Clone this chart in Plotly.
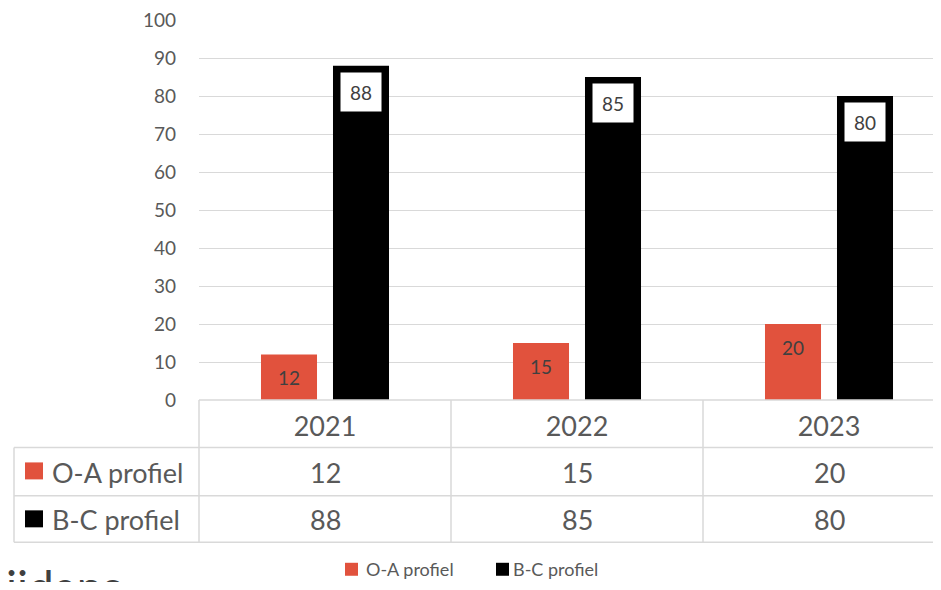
import plotly.graph_objects as go

# ---- data ----
years = ["2021", "2022", "2023"]
series_names = ["O-A profiel", "B-C profiel"]
oa_values = [12, 15, 20]
bc_values = [88, 85, 80]
y_ticks = [0, 10, 20, 30, 40, 50, 60, 70, 80, 90, 100]
cut_text = "iidans"

# ---- style ----
RED = "#E1523D"
BLACK = "#000000"
GRID = "#D9D9D9"
TXT = "#595959"
LBL = "#404040"
FONT = "Lato"

PAGE_OFF = 8  # browser body margin (all sides)
W, H = 941 - 2 * PAGE_OFF, 590 - 2 * PAGE_OFF
ML, MT, MR = 199 - PAGE_OFF, 20 - PAGE_OFF, 0
PLOT_BOTTOM = 400.5 - PAGE_OFF
MB = H - PLOT_BOTTOM
PW = W - ML - MR
PH = H - MT - MB
CAT_W = 252  # pixel width of one category
BARGAP = 1 - 144 / 252
GROUPGAP = 0.222


def px(x):
    """reference-page pixel x -> paper fraction"""
    return (x - PAGE_OFF - ML) / PW


def py(y):
    """reference-page pixel y -> paper fraction"""
    return (PLOT_BOTTOM - (y - PAGE_OFF)) / PH


fig = go.Figure()
fig.add_trace(go.Bar(name=series_names[0], x=years, y=oa_values,
                     marker=dict(color=RED, line=dict(width=0)), hoverinfo="skip"))
fig.add_trace(go.Bar(name=series_names[1], x=years, y=bc_values,
                     marker=dict(color=BLACK, line=dict(width=0)), hoverinfo="skip"))

off = (1 - BARGAP) / 4  # center offset of each bar from the category center
annotations = []
for i, (a, b) in enumerate(zip(oa_values, bc_values)):
    annotations.append(dict(x=i - off, y=a, xref="x", yref="y", text=str(a),
                            showarrow=False, yshift=-23, yanchor="middle",
                            font=dict(family=FONT, size=19, color=LBL)))
    annotations.append(dict(x=i + off, y=b, xref="x", yref="y", text=str(b),
                            showarrow=False, yshift=-26, yanchor="middle",
                            bgcolor="white", width=24, height=22, borderpad=8,
                            font=dict(family=FONT, size=19, color=LBL)))
    # data table values
    annotations.append(dict(x=i, y=py(473), xref="x", yref="paper", text=str(a),
                            showarrow=False, yanchor="middle",
                            font=dict(family=FONT, size=27, color=TXT)))
    annotations.append(dict(x=i, y=py(520), xref="x", yref="paper", text=str(b),
                            showarrow=False, yanchor="middle",
                            font=dict(family=FONT, size=27, color=TXT)))

# data table row headers
for name, yc in zip(series_names, [473, 520]):
    annotations.append(dict(x=px(50), y=py(yc), xref="paper", yref="paper", text=name,
                            showarrow=False, xanchor="left", yanchor="middle",
                            font=dict(family=FONT, size=27, color=TXT)))

# legend (bottom) texts
for name, xl in zip(series_names, [364, 511]):
    annotations.append(dict(x=px(xl), y=py(570), xref="paper", yref="paper", text=name,
                            showarrow=False, xanchor="left", yanchor="middle",
                            font=dict(family=FONT, size=18, color=TXT)))

# cropped text at bottom-left
annotations.append(dict(x=px(4), y=py(558), xref="paper", yref="paper", text=cut_text,
                        showarrow=False, xanchor="left", yanchor="top",
                        font=dict(family=FONT, size=46, color=LBL)))

shapes = []
line = dict(color=GRID, width=1.5)
# horizontal table lines
shapes.append(dict(type="line", xref="paper", yref="paper", x0=0, x1=1,
                   y0=py(400.5), y1=py(400.5), line=line))
for yy in [448, 496.5, 543]:
    shapes.append(dict(type="line", xref="paper", yref="paper", x0=px(14), x1=1,
                       y0=py(yy), y1=py(yy), line=line))
# vertical table lines
shapes.append(dict(type="line", xref="paper", yref="paper", x0=px(14), x1=px(14),
                   y0=py(448), y1=py(543), line=line))
shapes.append(dict(type="line", xref="paper", yref="paper", x0=0, x1=0,
                   y0=py(400.5), y1=py(543), line=line))
for k in range(len(years) - 1):
    shapes.append(dict(type="line", xref="x", yref="paper", x0=k + 0.5, x1=k + 0.5,
                       y0=py(400.5), y1=py(543), line=line))
# legend keys in the table
for color, (y0, y1) in zip([RED, BLACK], [(463, 480), (511, 528)]):
    shapes.append(dict(type="rect", xref="paper", yref="paper", x0=px(25), x1=px(43),
                       y0=py(y1), y1=py(y0), fillcolor=color, line=dict(width=0)))
# legend keys at the bottom
for color, xl in zip([RED, BLACK], [345, 496]):
    shapes.append(dict(type="rect", xref="paper", yref="paper", x0=px(xl), x1=px(xl + 13),
                       y0=py(576.5), y1=py(563.5), fillcolor=color, line=dict(width=0)))

fig.update_layout(
    width=W, height=H,
    margin=dict(l=ML, r=MR, t=MT, b=MB),
    paper_bgcolor="white", plot_bgcolor="white",
    barmode="group", bargap=BARGAP, bargroupgap=GROUPGAP,
    font=dict(family=FONT, color=TXT),
    xaxis=dict(type="category", range=[-0.5, -0.5 + PW / CAT_W], showgrid=False,
               showline=False, zeroline=False, ticks="",
               tickfont=dict(family=FONT, size=27, color=TXT), ticklabelstandoff=8),
    yaxis=dict(range=[0, 100.02], tickvals=y_ticks, showgrid=True, gridcolor=GRID,
               gridwidth=1.3, zeroline=False, showline=False, ticks="",
               ticklabeloverflow="allow",
               tickfont=dict(family=FONT, size=19, color=TXT), ticklabelstandoff=22),
    showlegend=False,
    annotations=annotations,
    shapes=shapes,
)

fig.write_html("out.html")
